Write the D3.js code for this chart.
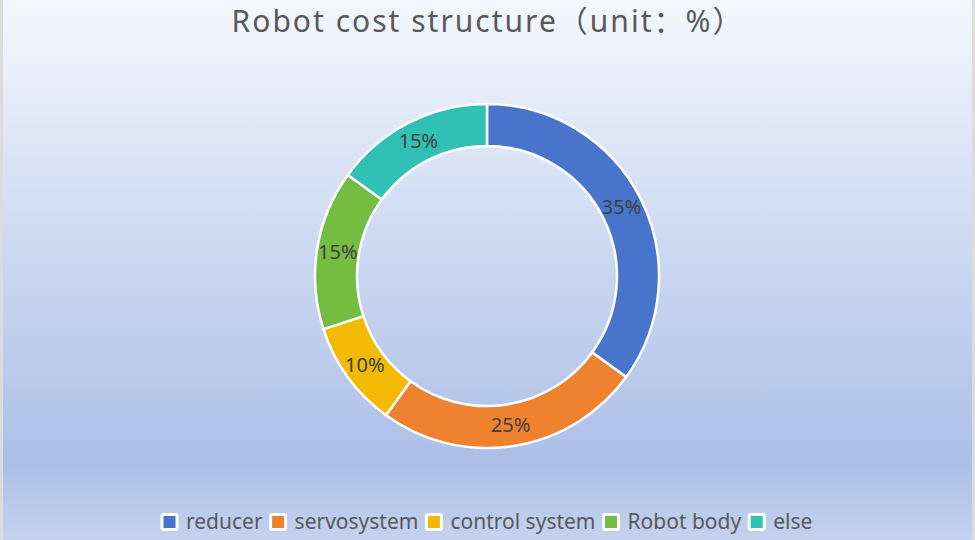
<!DOCTYPE html>
<html>
<head>
<meta charset="utf-8">
<script src="https://cdn.jsdelivr.net/npm/d3@7"></script>
<style>
  html, body { margin: 0; padding: 0; background: #fff; }
  svg { display: block; }
</style>
</head>
<body>
<svg id="chart" width="975" height="540"></svg>
<script>
const categories = ["reducer", "servosystem", "control system", "Robot body", "else"];
const shares = [35, 25, 10, 15, 15];
const colors = ["#4874CB", "#EE822F", "#F2BA02", "#75BD42", "#30C0B4"];
const title = "Robot cost structure（unit：%）";

const W = 975, H = 540;
const svg = d3.select("#chart");
const font = "'Noto Sans', 'Noto Sans CJK SC', sans-serif";

// background gradient panel
const defs = svg.append("defs");
const grad = defs.append("linearGradient").attr("id", "bg").attr("x1", 0).attr("y1", 0).attr("x2", 0).attr("y2", 1);
grad.append("stop").attr("offset", 0).attr("stop-color", "#f4f7fd");
grad.append("stop").attr("offset", 0.86).attr("stop-color", "#abbfe7");
grad.append("stop").attr("offset", 1).attr("stop-color", "#c5d2ef");
svg.append("rect").attr("width", W).attr("height", H).attr("fill", "#dcdcdc");
svg.append("rect").attr("x", 3).attr("y", 0).attr("width", W - 6).attr("height", H).attr("fill", "url(#bg)");

// title
svg.append("text")
  .attr("x", 488).attr("y", 32)
  .attr("text-anchor", "middle")
  .attr("font-family", font).attr("font-size", 30)
  .attr("letter-spacing", 2)
  .attr("fill", "#595959")
  .text(title);

// donut
const cx = 487, cy = 276, rOuter = 172, rInner = 130;
const pie = d3.pie().sort(null).value(d => d.v);
const arcs = pie(categories.map((c, i) => ({ c, v: shares[i], col: colors[i] })));
const arc = d3.arc().innerRadius(rInner).outerRadius(rOuter);
const labelArc = d3.arc().innerRadius((rInner + rOuter) / 2).outerRadius((rInner + rOuter) / 2);

const g = svg.append("g").attr("transform", `translate(${cx},${cy})`);
g.selectAll("path").data(arcs).join("path")
  .attr("d", arc)
  .attr("fill", d => d.data.col)
  .attr("stroke", "#ffffff")
  .attr("stroke-width", 2.5);

g.selectAll("text").data(arcs).join("text")
  .attr("transform", d => `translate(${labelArc.centroid(d)})`)
  .attr("text-anchor", "middle")
  .attr("dy", "0.35em")
  .attr("font-family", font).attr("font-size", 20)
  .attr("fill", "#404040")
  .text(d => d.data.v + "%");

// legend
const legend = svg.append("g").attr("transform", "translate(162,522)");
let x = 0;
categories.forEach((c, i) => {
  const item = legend.append("g").attr("transform", `translate(${x},0)`);
  item.append("rect").attr("x", 0).attr("y", -7.5).attr("width", 15).attr("height", 15)
    .attr("rx", 1.5)
    .attr("fill", colors[i]).attr("stroke", "#ffffff").attr("stroke-width", 3);
  const t = item.append("text").attr("x", 24).attr("y", 0).attr("dy", "0.35em")
    .attr("font-family", font).attr("font-size", 21).attr("fill", "#595959").text(c);
  x += 24 + t.node().getComputedTextLength() + 8;
});
</script>
</body>
</html>
